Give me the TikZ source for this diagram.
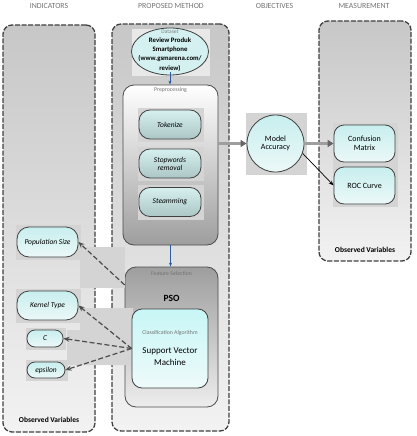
\documentclass[tikz,border=0pt]{standalone}
\usepackage{fontspec}
\setmainfont{Carlito}
\usetikzlibrary{positioning,shapes.geometric,arrows.meta,backgrounds}
\pgfdeclarelayer{panel}
\pgfsetlayers{panel,background,main}

\definecolor{leaftop}{RGB}{200,238,238}
\definecolor{leafbot}{RGB}{236,248,248}
\definecolor{steptop}{RGB}{214,240,240}
\definecolor{stepbot}{RGB}{172,198,198}
\definecolor{svmtop}{RGB}{200,246,246}
\definecolor{svmbot}{RGB}{238,250,250}
\definecolor{datafill}{RGB}{212,240,240}
\definecolor{arrowblue}{RGB}{46,90,160}

\begin{document}
\begin{tikzpicture}[x=1pt, y=-1pt,
  every node/.style={font=\fontsize{8}{9.5}\selectfont},
  head/.style={text=black!55, font=\fontsize{7.8}{9}\selectfont},
  tag/.style={text=black!55, font=\fontsize{5.8}{7}\selectfont, inner sep=1pt},
  obs/.style={font=\bfseries\fontsize{7.5}{9}\selectfont, inner sep=1pt},
  panelbox/.style={draw=black!75, line width=1.3pt, dash pattern=on 5pt off 1.6pt,
    rounded corners=9pt, top color=black!22, bottom color=black!5, inner sep=0pt},
  prebox/.style={draw=black!70, line width=0.8pt, rounded corners=11pt,
    top color=white, bottom color=black!38, inner sep=0pt},
  featbox/.style={draw=black!70, line width=0.8pt, rounded corners=11pt,
    top color=black!38, bottom color=black!7, inner sep=0pt},
  svmbox/.style={draw=black!75, line width=0.8pt, rounded corners=10pt,
    top color=svmtop, bottom color=svmbot, inner sep=0pt},
  stepbox/.style={draw=black!75, line width=0.8pt, rounded corners=11pt,
    top color=steptop, bottom color=stepbot, align=center, inner sep=1pt,
    minimum width=62, minimum height=29, font=\itshape\fontsize{7.5}{9}\selectfont},
  leaf/.style={draw=black!75, line width=0.8pt, rounded corners=10pt,
    top color=leaftop, bottom color=leafbot, align=center, inner sep=1pt},
  dataset/.style={ellipse, draw=black!75, line width=0.8pt, fill=datafill,
    minimum width=77, minimum height=47, inner sep=0pt},
  backdrop/.style={fill=black!17},
  flow/.style={draw=black!38, line width=2.6pt,
    -{Triangle[length=6pt, width=7pt, color=black!60]}},
  blueflow/.style={draw=arrowblue, line width=0.8pt, -{Stealth[length=4pt]}},
  link/.style={draw=black!70, line width=1.2pt, dash pattern=on 5pt off 2.5pt,
    -{Stealth[length=6pt, width=5pt]}}]
\useasboundingbox (0,0) rectangle (416,436);
% column heads
\node[head] (h1) at (49,6) {INDICATORS};
\node[head] (h2) at (171,6) {PROPOSED METHOD};
\node[head] (h3) at (274.5,6) {OBJECTIVES};
\node[head] (h4) at (364,6) {MEASUREMENT};
% panels and containers
\begin{pgfonlayer}{panel}
\node[panelbox, minimum width=92, minimum height=407] (indpanel) at (49,228.5) {};
\node[panelbox, minimum width=117, minimum height=407] (metpanel) at (170.5,227.5) {};
\node[panelbox, minimum width=92, minimum height=240] (meapanel) at (365,141) {};
\node[prebox, minimum width=95, minimum height=160] (pre) at (170.5,165) {};
\node[featbox, minimum width=93, minimum height=140] (feat) at (171.5,337) {};
\end{pgfonlayer}
\node[obs, above=9pt of indpanel.south] (indobs) {Observed Variables};
\node[obs, above=8pt of meapanel.south] (meaobs) {Observed Variables};
% proposed method
\node[dataset] (data) at (170,51.5) {};
\node[align=center, inner sep=0pt, font=\bfseries\fontsize{6.8}{9.2}\selectfont] (datatxt) at (170,50.5)
  {{\mdseries\color{black!50}\fontsize{5.5}{6}\selectfont Dataset}\\Review Produk\\Smartphone\\(www.gsmarena.com/\\review)};
\node[tag, below=2pt of pre.north] (pretag) {Preprocessing};
\node[stepbox] (tok) at (170,124.5) {Tokenize};
\node[stepbox] (stop) at (170,163.5) {Stopwords\\[-1pt]removal};
\node[stepbox] (stem) at (170,202) {Steamming};
\node[tag, below=4pt of feat.north] (feattag) {Feature Selection};
\node[font=\bfseries\fontsize{9.5}{11}\selectfont] (pso) at (171.5,298) {PSO};
\node[svmbox, minimum width=76, minimum height=79] (svm) at (170,348.5) {};
\node[tag] (svmtag) at (170,333) {Classification Algorithm};
\node[align=center, inner sep=0pt, font=\fontsize{9}{12.5}\selectfont] (svmtxt) at (170,356.5) {Support Vector\\Machine};
% objectives and measurement
\node[leaf, circle, minimum size=57] (model) at (275.5,143.5) {Model\\[-1pt]Accuracy};
\node[leaf, minimum width=61, minimum height=37] (conf) at (364.5,143.5) {Confusion\\[-1pt]Matrix};
\node[leaf, minimum width=61, minimum height=37] (roc) at (364.5,185.5) {ROC Curve};
% indicators
\node[leaf, minimum width=61, minimum height=30, rounded corners=12pt,
  font=\itshape\fontsize{7.5}{9}\selectfont] (pop) at (47.5,242) {Population Size};
\node[leaf, minimum width=61, minimum height=29, rounded corners=12pt,
  font=\itshape\fontsize{7.5}{9}\selectfont] (kern) at (47.5,305.5) {Kernel Type};
\node[leaf, minimum width=36, minimum height=17, rounded corners=8pt,
  font=\itshape\fontsize{7.5}{9}\selectfont] (cval) at (45,338.5) {C};
\node[leaf, minimum width=38, minimum height=16, rounded corners=8pt,
  font=\itshape\fontsize{7.5}{9}\selectfont] (eps) at (46,370) {epsilon};
% shadows
\begin{pgfonlayer}{background}
\foreach \n in {tok,stop,stem,model,conf,roc,pop,kern,cval,eps}
  \fill[backdrop] ([xshift=-1pt,yshift=2pt]\n.west |- \n.north)
    rectangle ([xshift=3pt,yshift=-3pt]\n.east |- \n.south);
\fill[black!9] (132,29) rectangle (210,76);
\fill[backdrop] (80,247) rectangle (125,288);
\fill[backdrop] (80,308) -- (133,308) -- (133,365) -- (67,365) -- (67,330) -- (80,330) -- cycle;
\end{pgfonlayer}
% connectors
\draw[blueflow] (data.south) ++(0,-3) -- (data |- pre.north);
\draw[blueflow] (pre) -- (pre |- feat.north);
\draw[flow] (model -| pre.east) -- (model);
\draw[flow] (model) -- (conf);
\draw[black, line width=0.7pt, -{Stealth[length=5pt]}] (model.-20) -- (roc.west);
\draw[link] (feat.132) -- (pop.east);
\draw[link] (svm.west) -- (kern.east);
\draw[link] (svm.west) -- (cval.east);
\draw[link] (svm.west) -- (eps.east);
\end{tikzpicture}
\end{document}
